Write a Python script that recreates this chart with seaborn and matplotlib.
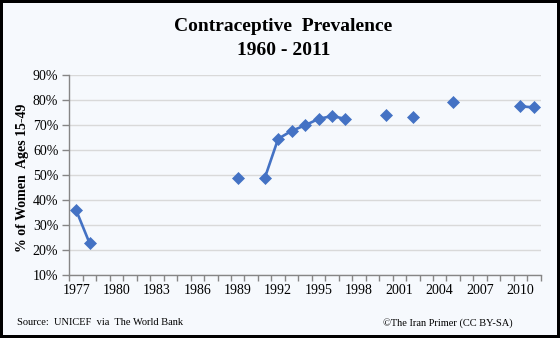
import matplotlib
matplotlib.use("Agg")
import matplotlib.pyplot as plt
import numpy as np
import pandas as pd
import seaborn as sns

# Contraceptive prevalence, % of women ages 15-49 (UNICEF via The World Bank)
years = [1977, 1978, 1989, 1991, 1992, 1993, 1994, 1995, 1996, 1997,
         2000, 2002, 2005, 2010, 2011]
prevalence = [36.0, 22.8, 48.8, 48.8, 64.6, 67.8, 70.0, 72.6, 73.7, 72.6,
              74.1, 73.2, 79.2, 77.6, 77.2]
year_ticks = [1977, 1980, 1983, 1986, 1989, 1992, 1995, 1998, 2001, 2004, 2007, 2010]
pct_ticks = [10, 20, 30, 40, 50, 60, 70, 80, 90]

df = pd.DataFrame({"year": years, "value": prevalence})
# Only consecutive years are joined by a line segment
df["run"] = (df["year"].diff() != 1).cumsum()

sns.set_theme(style="white")
plt.rcParams["font.family"] = ["Liberation Serif", "DejaVu Serif"]
plt.rcParams["text.color"] = "black"
plt.rcParams["axes.labelcolor"] = "black"

bg = "#F6F9FD"
blue = "#4472C4"
axis_grey = "#868686"

fig = plt.figure(figsize=(5.6, 3.38), dpi=100, facecolor=bg,
                 edgecolor="black", linewidth=3)
ax = fig.add_axes([0.124, 0.1855, 0.8415, 0.5915])
ax.set_facecolor(bg)

sns.lineplot(data=df, x="year", y="value", units="run", estimator=None,
             color=blue, linewidth=1.9, marker="D", markersize=6.5,
             markeredgecolor=blue, markeredgewidth=0.5, ax=ax, legend=False)

ax.set_xlim(1976.5, 2011.5)
ax.set_ylim(10, 90)
ax.set_yticks(pct_ticks)
ax.set_yticklabels([f"{v}%" for v in pct_ticks])
ax.set_xticks(year_ticks)
ax.set_xticklabels([str(y) for y in year_ticks])
ax.set_xticks(np.arange(1976.5, 2012.0, 1.0), minor=True)

ax.yaxis.grid(True, color="#D9D9D9", linewidth=1.0)
ax.xaxis.grid(False)
for side in ["top", "right"]:
    ax.spines[side].set_visible(False)
for side in ["left", "bottom"]:
    ax.spines[side].set_color(axis_grey)
    ax.spines[side].set_linewidth(1.0)

ax.tick_params(axis="x", which="major", length=0, pad=6, labelsize=10,
               labelcolor="black")
ax.tick_params(axis="x", which="minor", length=4, width=1, color=axis_grey, bottom=True)
ax.tick_params(axis="y", which="major", length=5, width=1, color=axis_grey,
               labelsize=10, labelcolor="black", left=True, pad=3)

ax.set_xlabel("")
ax.set_ylabel("% of Women  Ages 15-49", fontsize=10, fontweight="bold",
              labelpad=1, color="black")
ax.yaxis.set_label_coords(-0.086, 0.49)

fig.text(0.506, 0.922, "Contraceptive  Prevalence", ha="center", va="center",
         fontsize=14, fontweight="bold", color="black")
fig.text(0.506, 0.852, "1960 - 2011", ha="center", va="center",
         fontsize=14, fontweight="bold", color="black")

fig.text(0.03, 0.045, "Source:  UNICEF  via  The World Bank", ha="left", va="center",
         fontsize=7.5, color="black")
fig.text(0.915, 0.045, "\u00a9The Iran Primer (CC BY-SA)", ha="right", va="center",
         fontsize=7.5, color="black")

fig.savefig("out.png", dpi=100, facecolor=bg, edgecolor="black")
